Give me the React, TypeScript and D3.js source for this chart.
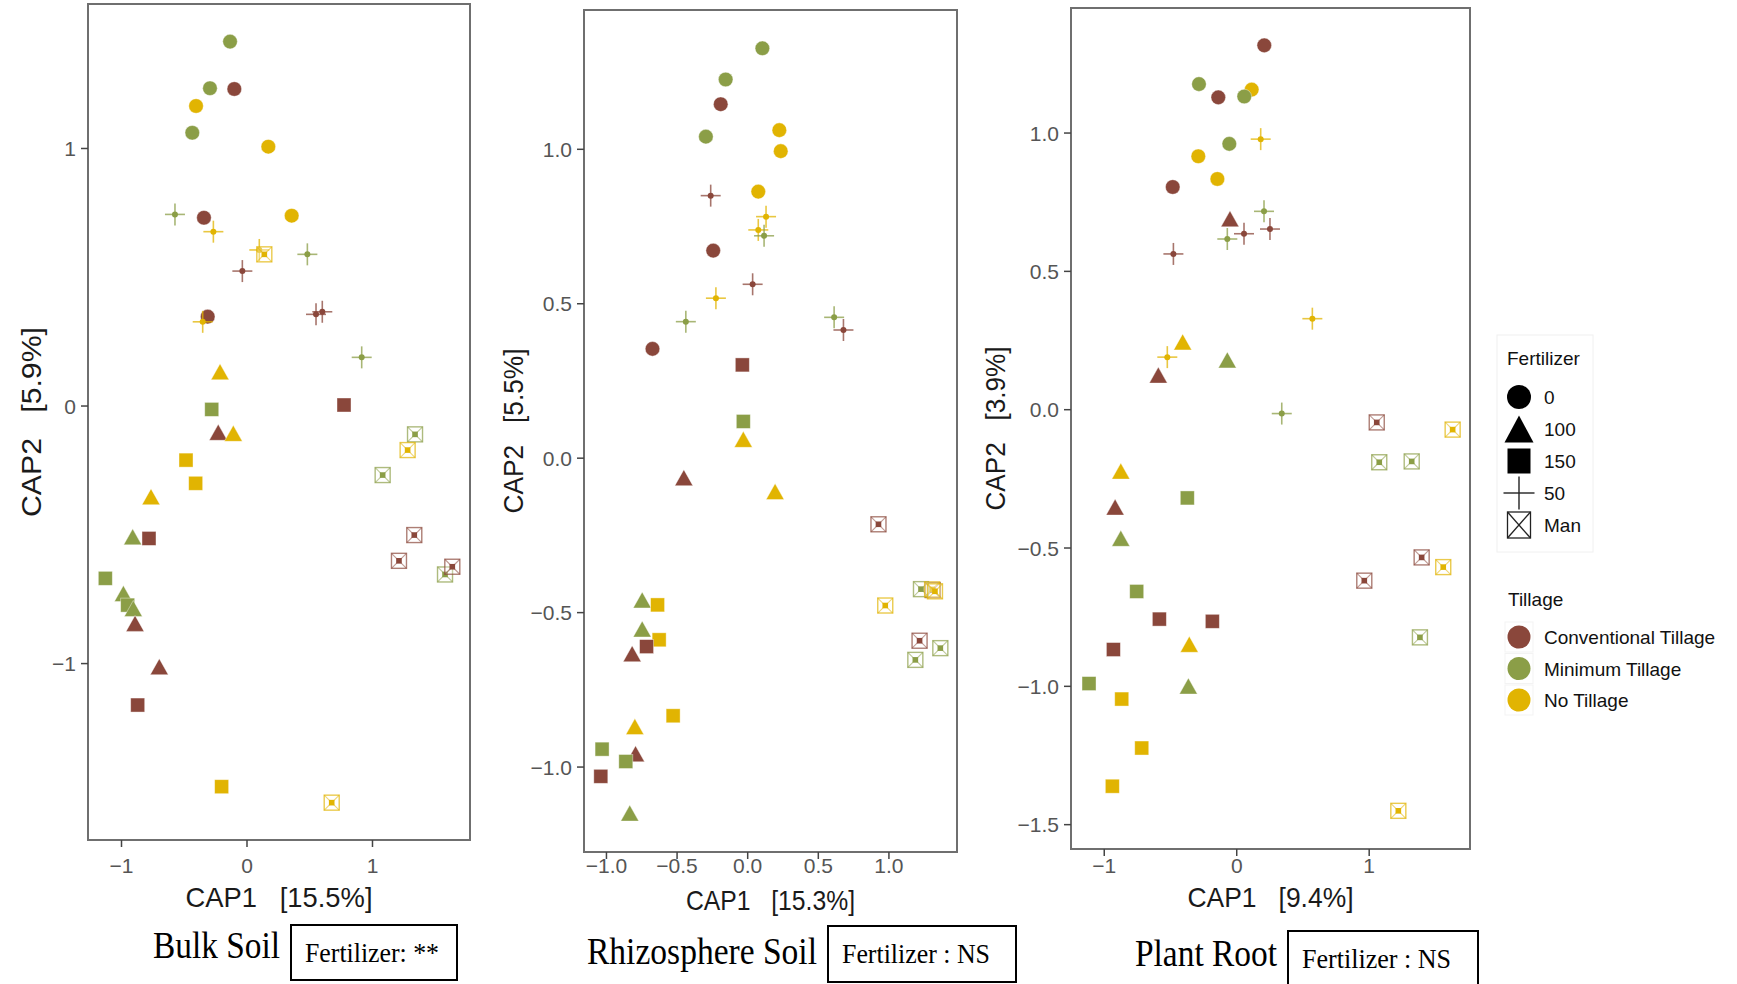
import React from "react";
import * as d3 from "d3";

// ---------- legend levels ----------
const FERT_LEVELS = ["0", "100", "150", "50", "Man"];
const TILL_CODES = ["CT", "MT", "NT"];
const TILL_LABELS = ["Conventional Tillage", "Minimum Tillage", "No Tillage"];
const TILL_COLORS = ["#8A473B", "#8B9E47", "#E1B402"];

// ---------- Bulk Soil ----------
const bulkCap1 = [-0.135, -0.295, -0.101, -0.406, -0.436, 0.17, -0.574, -0.343, -0.268, 0.356, 0.098, 0.138, 0.481, -0.037, 0.55, 0.6, -0.313, -0.353, 0.914, -0.215, -0.281, 0.773, -0.229, -0.109, 1.339, 1.28, -0.486, -0.409, 1.081, -0.765, -0.911, -0.781, 1.333, 1.211, 1.578, 1.636, -1.129, -0.985, -0.951, -0.906, -0.892, -0.699, -0.871, -0.202, 0.675];
const bulkCap2 = [1.415, 1.234, 1.231, 1.165, 1.061, 1.007, 0.744, 0.731, 0.677, 0.739, 0.606, 0.589, 0.589, 0.524, 0.356, 0.366, 0.347, 0.327, 0.189, 0.133, -0.013, 0.004, -0.102, -0.106, -0.11, -0.171, -0.21, -0.3, -0.268, -0.352, -0.508, -0.514, -0.501, -0.601, -0.654, -0.624, -0.669, -0.728, -0.773, -0.786, -0.844, -1.012, -1.161, -1.478, -1.54];
const bulkFert = ["0", "0", "0", "0", "0", "0", "50", "0", "50", "0", "50", "Man", "50", "50", "50", "50", "0", "50", "50", "100", "150", "150", "100", "100", "Man", "Man", "150", "150", "Man", "100", "100", "150", "Man", "Man", "Man", "Man", "150", "100", "150", "100", "100", "100", "150", "150", "Man"];
const bulkTill = ["MT", "MT", "CT", "NT", "MT", "NT", "MT", "CT", "NT", "NT", "NT", "NT", "MT", "CT", "CT", "CT", "CT", "NT", "MT", "NT", "MT", "CT", "CT", "NT", "MT", "NT", "NT", "NT", "MT", "NT", "MT", "CT", "CT", "CT", "MT", "CT", "MT", "MT", "MT", "MT", "CT", "CT", "CT", "NT", "NT"];

// ---------- Rhizosphere Soil ----------
const rhizoCap1 = [0.104, -0.156, -0.191, 0.224, -0.296, 0.234, 0.075, -0.262, 0.13, 0.075, 0.116, -0.244, 0.035, -0.225, -0.438, 0.612, 0.678, -0.674, -0.038, -0.031, -0.031, -0.452, 0.194, 0.926, 1.31, 1.227, 1.306, 1.326, 0.974, -0.747, -0.638, -0.747, -0.627, -0.716, -0.818, 1.217, 1.364, 1.187, -0.528, -0.799, -1.031, -0.794, -0.863, -1.04, -0.835];
const rhizoCap2 = [1.327, 1.226, 1.146, 1.062, 1.041, 0.994, 0.863, 0.85, 0.782, 0.739, 0.72, 0.672, 0.563, 0.518, 0.442, 0.456, 0.415, 0.354, 0.302, 0.119, 0.061, -0.063, -0.108, -0.214, -0.427, -0.424, -0.425, -0.431, -0.477, -0.459, -0.475, -0.553, -0.588, -0.61, -0.633, -0.591, -0.615, -0.653, -0.834, -0.869, -0.942, -0.957, -0.982, -1.03, -1.149];
const rhizoFert = ["0", "0", "0", "0", "0", "0", "0", "50", "50", "50", "50", "0", "50", "50", "50", "50", "50", "0", "150", "150", "100", "100", "100", "Man", "Man", "Man", "Man", "Man", "Man", "100", "150", "100", "150", "150", "100", "Man", "Man", "Man", "150", "100", "150", "100", "150", "150", "100"];
const rhizoTill = ["MT", "MT", "CT", "NT", "MT", "NT", "NT", "CT", "NT", "NT", "MT", "CT", "CT", "NT", "MT", "MT", "CT", "CT", "CT", "MT", "NT", "CT", "NT", "CT", "CT", "MT", "NT", "NT", "NT", "MT", "NT", "MT", "NT", "CT", "CT", "CT", "MT", "MT", "NT", "NT", "MT", "CT", "MT", "CT", "MT"];

// ---------- Plant Root ----------
const rootCap1 = [0.208, -0.285, 0.113, -0.139, 0.057, 0.181, -0.056, -0.29, -0.146, -0.483, 0.206, -0.051, 0.251, 0.055, -0.071, -0.478, 0.571, -0.408, -0.524, -0.071, -0.592, 0.34, 1.057, 1.63, 1.076, 1.321, -0.875, -0.918, -0.373, -0.875, 1.396, 1.559, 0.963, -0.755, -0.584, -0.184, -0.358, 1.383, -0.931, -1.115, -0.365, -0.868, -0.717, -0.939, 1.22];
const rootCap2 = [1.317, 1.177, 1.157, 1.129, 1.132, 0.978, 0.961, 0.916, 0.834, 0.805, 0.717, 0.69, 0.653, 0.636, 0.617, 0.563, 0.329, 0.245, 0.19, 0.18, 0.125, -0.014, -0.046, -0.072, -0.19, -0.187, -0.222, -0.352, -0.319, -0.465, -0.534, -0.569, -0.618, -0.657, -0.757, -0.765, -0.848, -0.823, -0.867, -0.99, -0.999, -1.046, -1.223, -1.361, -1.45];
const rootFert = ["0", "0", "0", "0", "0", "50", "0", "0", "0", "0", "50", "100", "50", "50", "50", "50", "50", "100", "50", "100", "100", "50", "Man", "Man", "Man", "Man", "100", "100", "150", "100", "Man", "Man", "Man", "150", "150", "150", "100", "Man", "150", "150", "100", "150", "150", "150", "Man"];
const rootTill = ["CT", "MT", "NT", "CT", "MT", "NT", "MT", "NT", "NT", "CT", "MT", "CT", "CT", "CT", "MT", "CT", "NT", "NT", "NT", "MT", "CT", "MT", "CT", "NT", "MT", "MT", "NT", "CT", "MT", "MT", "CT", "NT", "CT", "MT", "CT", "CT", "NT", "MT", "CT", "MT", "MT", "NT", "NT", "NT", "NT"];

// ---------- axis ticks / labels ----------
const bulkXTicks = [-1, 0, 1];
const bulkYTicks = [-1, 0, 1];
const rhizoXTicks = [-1, -0.5, 0, 0.5, 1];
const rhizoYTicks = [-1, -0.5, 0, 0.5, 1];
const rootXTicks = [-1, 0, 1];
const rootYTicks = [-1.5, -1, -0.5, 0, 0.5, 1];

const SANS = "'Liberation Sans', Arial, Helvetica, sans-serif";
const SERIF = "'Liberation Serif', 'Times New Roman', serif";

const colorOf = (t: string) => TILL_COLORS[TILL_CODES.indexOf(t)];

const fmt = (v: number, dec: number) =>
  (v < 0 ? "\u2212" : "") + Math.abs(v).toFixed(dec);

type Geo = {
  left: number; right: number; top: number; bottom: number;
  xDomain: [number, number]; yDomain: [number, number];
  xTicks: number[]; yTicks: number[]; xDec: number; yDec: number;
  cap1: number[]; cap2: number[]; fert: string[]; till: string[];
  xTitle: string; yTitle: string;
  xTitleLen: number; xTitleY: number;
  yTitleLen: number; yTitleX: number;
  name: string; nameX: number; nameLen: number; nameY: number;
  box: [number, number, number, number];
  boxText: string; boxTextX: number; boxTextLen: number; boxTextY: number;
};

const panels: Geo[] = [
  {
    left: 88, right: 470, top: 4, bottom: 840,
    xDomain: [-1.267, 1.777], yDomain: [-1.685, 1.561],
    xTicks: bulkXTicks, yTicks: bulkYTicks, xDec: 0, yDec: 0,
    cap1: bulkCap1, cap2: bulkCap2, fert: bulkFert, till: bulkTill,
    xTitle: "CAP1   [15.5%]", yTitle: "CAP2   [5.9%]",
    xTitleLen: 187, xTitleY: 907, yTitleLen: 190, yTitleX: 41,
    name: "Bulk Soil", nameX: 153, nameLen: 127, nameY: 958,
    box: [291, 925, 457, 980],
    boxText: "Fertilizer: **", boxTextX: 305, boxTextLen: 134, boxTextY: 962,
  },
  {
    left: 584, right: 957, top: 10, bottom: 852,
    xDomain: [-1.159, 1.482], yDomain: [-1.275, 1.451],
    xTicks: rhizoXTicks, yTicks: rhizoYTicks, xDec: 1, yDec: 1,
    cap1: rhizoCap1, cap2: rhizoCap2, fert: rhizoFert, till: rhizoTill,
    xTitle: "CAP1   [15.3%]", yTitle: "CAP2   [5.5%]",
    xTitleLen: 169, xTitleY: 910, yTitleLen: 165, yTitleX: 523,
    name: "Rhizosphere Soil", nameX: 587, nameLen: 230, nameY: 964,
    box: [828, 926, 1016, 982],
    boxText: "Fertilizer : NS", boxTextX: 842, boxTextLen: 148, boxTextY: 963,
  },
  {
    left: 1071, right: 1470, top: 8, bottom: 849,
    xDomain: [-1.251, 1.761], yDomain: [-1.588, 1.452],
    xTicks: rootXTicks, yTicks: rootYTicks, xDec: 0, yDec: 1,
    cap1: rootCap1, cap2: rootCap2, fert: rootFert, till: rootTill,
    xTitle: "CAP1   [9.4%]", yTitle: "CAP2   [3.9%]",
    xTitleLen: 166, xTitleY: 907, yTitleLen: 164, yTitleX: 1005,
    name: "Plant Root", nameX: 1135, nameLen: 142, nameY: 966,
    box: [1288, 931, 1478, 992],
    boxText: "Fertilizer : NS", boxTextX: 1302, boxTextLen: 149, boxTextY: 968,
  },
];

function Marker({ shape, cx, cy, color, s = 1 }: { shape: string; cx: number; cy: number; color: string; s?: number }) {
  if (shape === "0") {
    return <circle cx={cx} cy={cy} r={7.3 * s} fill={color} stroke="white" strokeOpacity={0.5} strokeWidth={0.8} />;
  }
  if (shape === "100") {
    const w = 18 * s, h = 16 * s;
    const p = d3.path();
    p.moveTo(cx, cy - h / 2);
    p.lineTo(cx + w / 2, cy + h / 2);
    p.lineTo(cx - w / 2, cy + h / 2);
    p.closePath();
    return <path d={p.toString()} fill={color} stroke="white" strokeOpacity={0.5} strokeWidth={0.8} />;
  }
  if (shape === "150") {
    const a = 14 * s;
    return <rect x={cx - a / 2} y={cy - a / 2} width={a} height={a} fill={color} stroke="white" strokeOpacity={0.5} strokeWidth={0.8} />;
  }
  if (shape === "50") {
    const hx = 10 * s, hy = 11 * s;
    return (
      <g>
        <line x1={cx - hx} x2={cx + hx} y1={cy} y2={cy} stroke={color} strokeWidth={1.6 * s} strokeOpacity={0.75} />
        <line x1={cx} x2={cx} y1={cy - hy} y2={cy + hy} stroke={color} strokeWidth={1.6 * s} strokeOpacity={0.75} />
        <circle cx={cx} cy={cy} r={3} fill={color} />
      </g>
    );
  }
  // Man: square with cross
  const a = 15 * s;
  return (
    <g>
      <rect x={cx - a / 2} y={cy - a / 2} width={a} height={a} fill="white" fillOpacity={0.3} stroke={color} strokeWidth={1.4} strokeOpacity={0.7} />
      <line x1={cx - a / 2} y1={cy - a / 2} x2={cx + a / 2} y2={cy + a / 2} stroke={color} strokeWidth={1.1} strokeOpacity={0.55} />
      <line x1={cx - a / 2} y1={cy + a / 2} x2={cx + a / 2} y2={cy - a / 2} stroke={color} strokeWidth={1.1} strokeOpacity={0.55} />
      <rect x={cx - 2.8} y={cy - 2.8} width={5.6} height={5.6} fill={color} />
    </g>
  );
}

function LegendMarker({ shape, cx, cy }: { shape: string; cx: number; cy: number }) {
  const c = "black";
  if (shape === "0") return <circle cx={cx} cy={cy} r={12} fill={c} />;
  if (shape === "100") {
    const p = d3.path();
    p.moveTo(cx, cy - 13.5);
    p.lineTo(cx + 14.5, cy + 13.5);
    p.lineTo(cx - 14.5, cy + 13.5);
    p.closePath();
    return <path d={p.toString()} fill={c} />;
  }
  if (shape === "150") return <rect x={cx - 11.5} y={cy - 12.5} width={23} height={25} fill={c} />;
  if (shape === "50")
    return (
      <g stroke="#222" strokeWidth={1.4}>
        <line x1={cx - 15.5} x2={cx + 15.5} y1={cy} y2={cy} />
        <line x1={cx} x2={cx} y1={cy - 16.5} y2={cy + 16.5} />
      </g>
    );
  return (
    <g stroke="#222" strokeWidth={1.3} fill="none">
      <rect x={cx - 11.5} y={cy - 13} width={23} height={26} />
      <line x1={cx - 11.5} y1={cy - 13} x2={cx + 11.5} y2={cy + 13} />
      <line x1={cx - 11.5} y1={cy + 13} x2={cx + 11.5} y2={cy - 13} />
    </g>
  );
}

function Panel({ p }: { p: Geo }) {
  const x = d3.scaleLinear().domain(p.xDomain).range([p.left, p.right]);
  const y = d3.scaleLinear().domain(p.yDomain).range([p.bottom, p.top]);
  const cy = (p.top + p.bottom) / 2;
  const cx = (p.left + p.right) / 2;
  return (
    <g>
      <rect x={p.left} y={p.top} width={p.right - p.left} height={p.bottom - p.top} fill="white" stroke="#6f6f6f" strokeWidth={2} />
      {p.xTicks.map((t) => (
        <g key={"x" + t}>
          <line x1={x(t)} x2={x(t)} y1={p.bottom} y2={p.bottom + 7} stroke="#444" strokeWidth={1.5} />
          <text x={x(t)} y={873} textAnchor="middle" fontFamily={SANS} fontSize={21} fill="#555">
            {fmt(t, p.xDec)}
          </text>
        </g>
      ))}
      {p.yTicks.map((t) => (
        <g key={"y" + t}>
          <line x1={p.left - 7} x2={p.left} y1={y(t)} y2={y(t)} stroke="#444" strokeWidth={1.5} />
          <text x={p.left - 12} y={y(t) + 7.5} textAnchor="end" fontFamily={SANS} fontSize={21} fill="#555">
            {fmt(t, p.yDec)}
          </text>
        </g>
      ))}
      {p.cap1.map((v, i) => (
        <Marker key={i} shape={p.fert[i]} cx={x(v)} cy={y(p.cap2[i])} color={colorOf(p.till[i])} />
      ))}
      <text x={cx} y={p.xTitleY} textAnchor="middle" fontFamily={SANS} fontSize={28} fill="#1a1a1a"
        xmlSpace="preserve" style={{ whiteSpace: "pre" }} textLength={p.xTitleLen} lengthAdjust="spacingAndGlyphs">
        {p.xTitle}
      </text>
      <text transform={`translate(${p.yTitleX},${cy}) rotate(-90)`} textAnchor="middle" fontFamily={SANS} fontSize={28} fill="#1a1a1a"
        xmlSpace="preserve" style={{ whiteSpace: "pre" }} textLength={p.yTitleLen} lengthAdjust="spacingAndGlyphs">
        {p.yTitle}
      </text>
      <text x={p.nameX} y={p.nameY} fontFamily={SERIF} fontSize={37} fill="black" textLength={p.nameLen} lengthAdjust="spacingAndGlyphs">
        {p.name}
      </text>
      <rect x={p.box[0]} y={p.box[1]} width={p.box[2] - p.box[0]} height={p.box[3] - p.box[1]} fill="none" stroke="black" strokeWidth={2} />
      <text x={p.boxTextX} y={p.boxTextY} fontFamily={SERIF} fontSize={27} fill="black" textLength={p.boxTextLen} lengthAdjust="spacingAndGlyphs">
        {p.boxText}
      </text>
    </g>
  );
}

function Legend() {
  const keyX = 1519;
  const labX = 1544;
  const fertY = d3.scaleLinear().domain([0, 4]).range([397, 525]);
  const tillY = d3.scaleLinear().domain([0, 2]).range([637, 700]);
  return (
    <g fontFamily={SANS}>
      <rect x={1497} y={335} width={96} height={217} fill="white" stroke="#f0f0f0" strokeWidth={1} />
      <text x={1507} y={365} fontSize={19} fill="#111">Fertilizer</text>
      {FERT_LEVELS.map((f, i) => (
        <g key={f}>
          <LegendMarker shape={f} cx={keyX} cy={fertY(i)} />
          <text x={labX} y={fertY(i) + 7} fontSize={19} fill="#111">{f}</text>
        </g>
      ))}
      <text x={1508} y={606} fontSize={19} fill="#111">Tillage</text>
      {TILL_LABELS.map((t, i) => (
        <g key={t}>
          <rect x={keyX - 14} y={tillY(i) - 15} width={28} height={30} fill="white" stroke="#f3f3f3" />
          <circle cx={keyX} cy={tillY(i)} r={11.5} fill={TILL_COLORS[i]} />
          <text x={labX} y={tillY(i) + 7} fontSize={19} fill="#111">{t}</text>
        </g>
      ))}
    </g>
  );
}

export default function App() {
  return (
    <svg width={1737} height={984} style={{ position: "absolute", left: 0, top: 0, background: "white" }}>
      <rect x={0} y={0} width={1737} height={984} fill="white" />
      {panels.map((p, i) => (
        <Panel key={i} p={p} />
      ))}
      <Legend />
    </svg>
  );
}
